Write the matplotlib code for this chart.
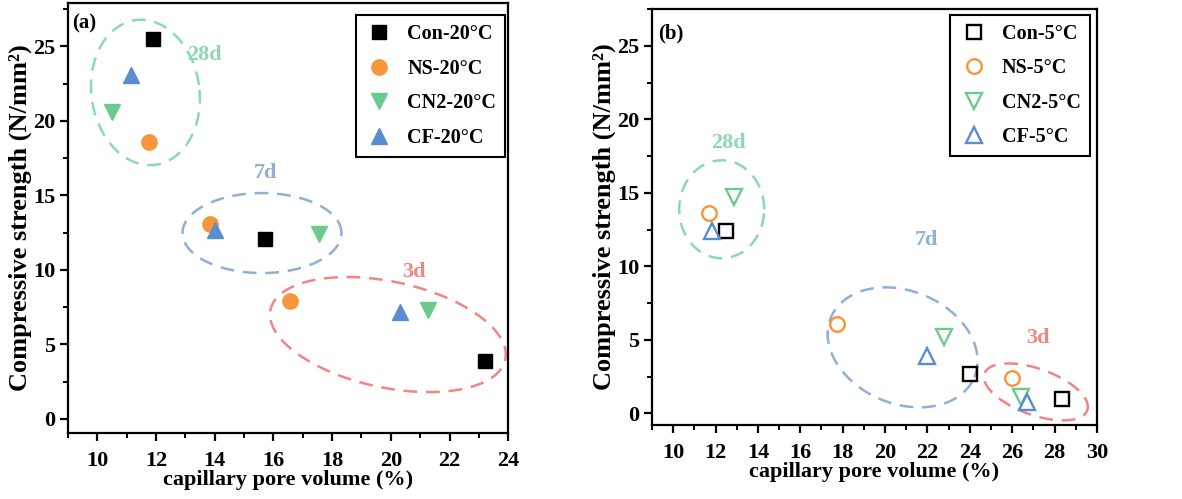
import numpy as np
import matplotlib
matplotlib.use('Agg')
import matplotlib.pyplot as plt
from matplotlib.ticker import MultipleLocator

plt.rcParams['font.family'] = 'Liberation Serif'
plt.rcParams['font.weight'] = 'bold'

## data, panel (a) 20°C : 28d, 7d, 3d
con20_x = [11.9, 15.7, 23.2]
con20_y = [25.5, 12.1, 3.9]
ns20_x = [11.75, 13.85, 16.55]
ns20_y = [18.6, 13.1, 7.9]
cn20_x = [10.5, 17.55, 21.25]
cn20_y = [20.6, 12.4, 7.3]
cf20_x = [11.15, 14.0, 20.3]
cf20_y = [23.1, 12.7, 7.2]

## data, panel (b) 5°C : 28d, 7d, 3d
con5_x = [12.5, 24.0, 28.35]
con5_y = [12.4, 2.7, 0.95]
ns5_x = [11.7, 17.75, 26.0]
ns5_y = [13.6, 6.1, 2.4]
cn5_x = [12.85, 22.8, 26.4]
cn5_y = [14.7, 5.2, 1.1]
cf5_x = [11.85, 22.0, 26.7]
cf5_y = [12.4, 3.9, 0.8]

ages = ['28d', '7d', '3d']

orange = '#F8943A'
green = '#6CCB8C'
blue = '#5A8DCF'
c28 = '#8ED8B0'
c7 = '#90AFD8'
c3 = '#F28484'


def ring(ax, cx, cy, w, h, ang, color):
    # ellipse drawn in pixel space round a data centre
    t = np.linspace(0, 2 * np.pi, 400)
    px, py = ax.transData.transform((cx, cy))
    r = np.deg2rad(ang)
    ex = w * np.cos(t)
    ey = h * np.sin(t)
    xs = px + ex * np.cos(r) - ey * np.sin(r)
    ys = py + ex * np.sin(r) + ey * np.cos(r)
    pts = ax.transData.inverted().transform(np.column_stack([xs, ys]))
    ax.plot(pts[:, 0], pts[:, 1], color=color, lw=1.8, ls=(0, (5.5, 3.5)), zorder=1)


def style(ax, xmax, ylim):
    ax.set_xlim(9, xmax)
    ax.set_ylim(*ylim)
    ax.xaxis.set_major_locator(MultipleLocator(2))
    ax.xaxis.set_minor_locator(MultipleLocator(1))
    ax.yaxis.set_major_locator(MultipleLocator(5))
    ax.yaxis.set_minor_locator(MultipleLocator(2.5))
    ax.tick_params(which='major', direction='out', length=6, width=1.6, labelsize=16)
    ax.tick_params(axis='x', which='major', pad=7)
    ax.tick_params(axis='y', which='major', pad=3)
    ax.tick_params(which='minor', direction='out', length=3.5, width=1.4)
    for s in ax.spines.values():
        s.set_linewidth(1.6)
    ax.set_xlabel('capillary pore volume (%)', fontsize=16, fontweight='bold', labelpad=-1)
    ax.set_ylabel('Compressive strength (N/mm²)', fontsize=19, fontweight='bold', labelpad=1)


fig = plt.figure(figsize=(11.82, 4.99), dpi=100)
ax1 = fig.add_axes([0.0575, 0.132, 0.3725, 0.862])
ax2 = fig.add_axes([0.5516, 0.148, 0.3764, 0.834])

style(ax1, 24, (-0.95, 27.9))
style(ax2, 30, (-0.8, 27.5))

ms = 10
ax1.plot(con20_x, con20_y, 's', color='black', ms=ms, ls='none', label='Con-20°C', zorder=3)
ax1.plot(ns20_x, ns20_y, 'o', color=orange, ms=ms + 1, ls='none', label='NS-20°C', zorder=3)
ax1.plot(cn20_x, cn20_y, 'v', color=green, ms=ms + 2, ls='none', label='CN2-20°C', zorder=3)
ax1.plot(cf20_x, cf20_y, '^', color=blue, ms=ms + 2, ls='none', label='CF-20°C', zorder=3)

ax2.plot(con5_x, con5_y, 's', mfc='none', mec='black', mew=1.7, ms=ms - 0.5, ls='none', label='Con-5°C', zorder=3)
ax2.plot(ns5_x, ns5_y, 'o', mfc='none', mec=orange, mew=1.7, ms=ms + 0.5, ls='none', label='NS-5°C', zorder=3)
ax2.plot(cn5_x, cn5_y, 'v', mfc='none', mec=green, mew=1.7, ms=ms + 1.5, ls='none', label='CN2-5°C', zorder=3)
ax2.plot(cf5_x, cf5_y, '^', mfc='none', mec=blue, mew=1.7, ms=ms + 1.5, ls='none', label='CF-5°C', zorder=3)

## ellipses round each age group
ring(ax1, 11.64, 21.9, 54, 73, 8, c28)
ring(ax1, 15.61, 12.47, 79.5, 40, 0, c7)
ring(ax1, 19.9, 5.66, 120, 53, -12, c3)
ring(ax2, 12.29, 13.88, 42.5, 49, 0, c28)
ring(ax2, 20.83, 4.49, 77.7, 56.4, -22.5, c7)
ring(ax2, 27.12, 1.46, 54.6, 23.1, -19.7, c3)

lab = dict(fontsize=16, fontweight='bold', ha='center', va='center')
ax1.text(13.65, 24.4, ages[0], color=c28, **lab)
ax1.text(15.73, 16.5, ages[1], color=c7, **lab)
ax1.text(20.8, 9.85, ages[2], color=c3, **lab)
ax2.text(12.6, 18.4, ages[0], color=c28, **lab)
ax2.text(21.96, 11.77, ages[1], color=c7, **lab)
ax2.text(27.2, 5.1, ages[2], color=c3, **lab)

ax1.text(0.01, 0.975, '(a)', transform=ax1.transAxes, fontsize=15, fontweight='bold', va='top')
ax2.text(0.013, 0.965, '(b)', transform=ax2.transAxes, fontsize=15, fontweight='bold', va='top')

for ax, anchor in ((ax1, (0.993, 0.972)), (ax2, (0.984, 0.986))):
    leg = ax.legend(loc='upper right', bbox_to_anchor=anchor, borderaxespad=0,
                    fontsize=14.5, frameon=True, fancybox=False, framealpha=1,
                    edgecolor='black', handletextpad=0.7, labelspacing=0.72,
                    borderpad=0.45, handlelength=1.4)
    leg.get_frame().set_linewidth(1.5)

fig.savefig('out.png', dpi=100)
